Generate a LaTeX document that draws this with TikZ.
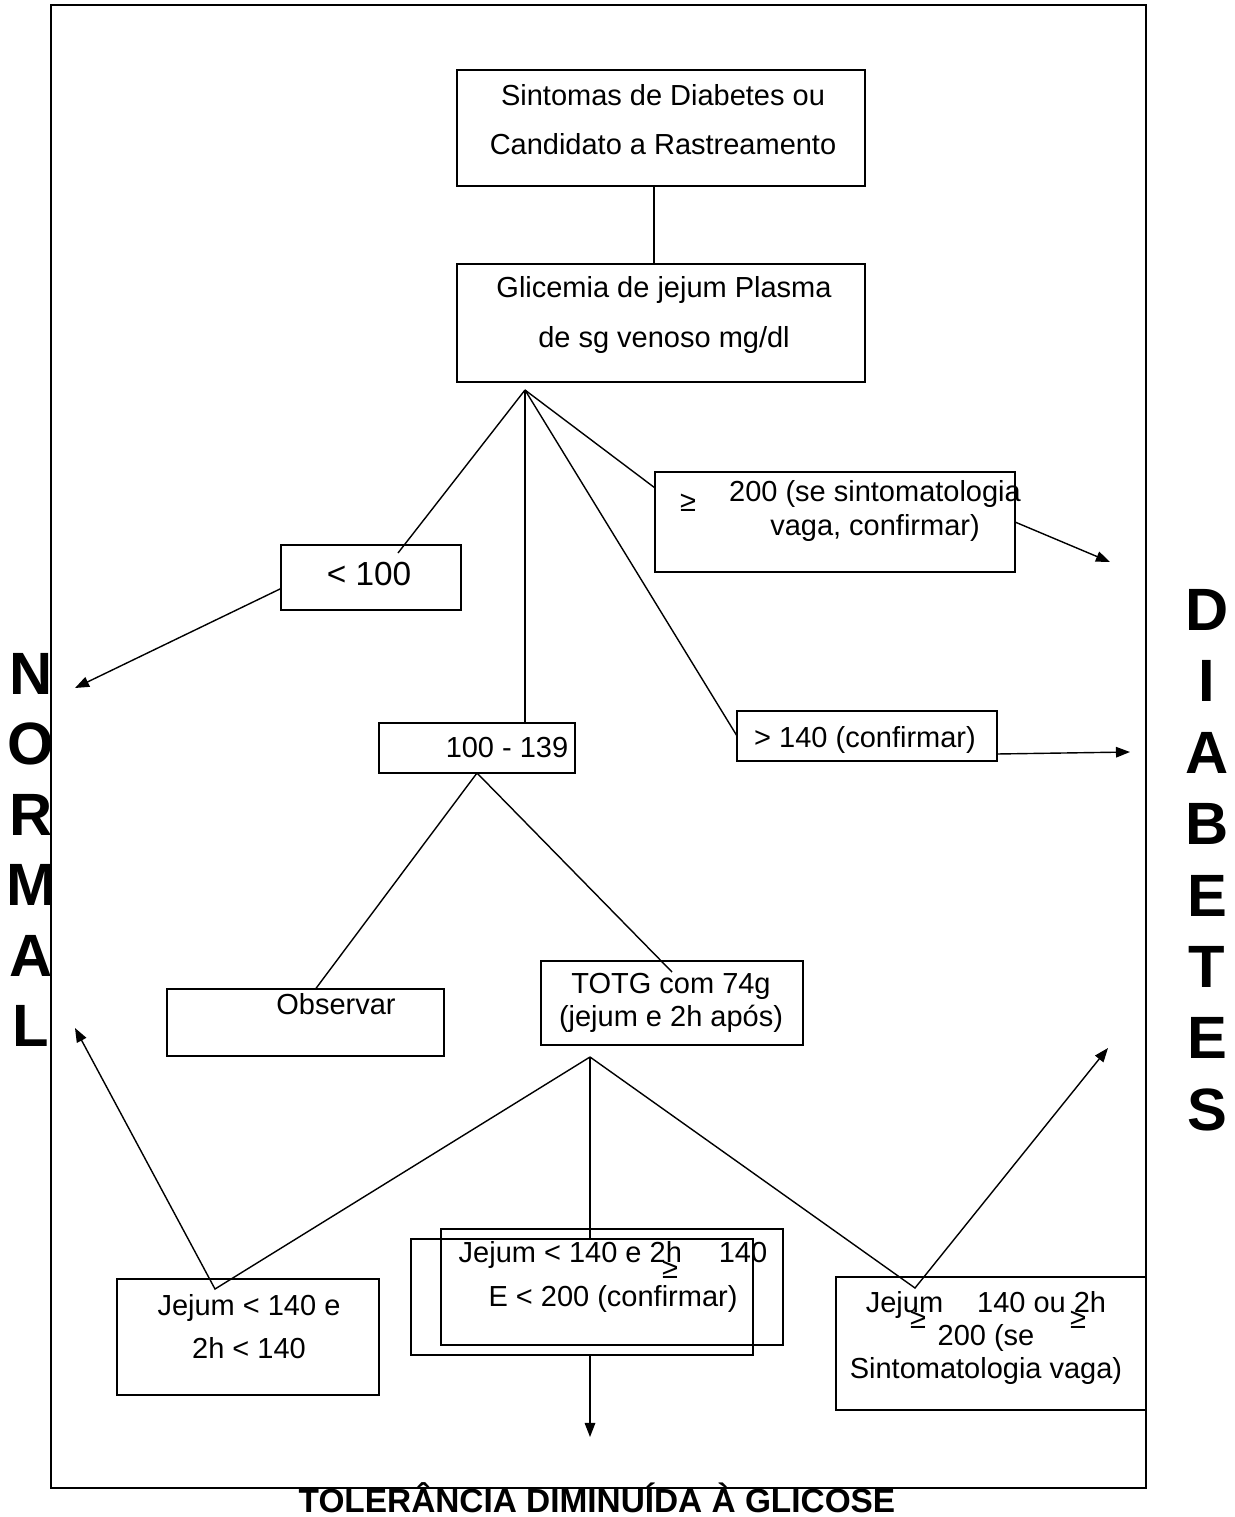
\documentclass[tikz,border=0pt]{standalone}
\usepackage{fontspec}
\setmainfont{Liberation Sans}
\usetikzlibrary{arrows.meta, positioning}

\begin{document}
\begin{tikzpicture}[
  x=0.02cm, y=-0.02cm,
  box/.style  = {rectangle, draw, line width=1pt, inner sep=0pt, outer sep=0pt},
  txt/.style  = {align=center, inner sep=0pt, font=\fontsize{16.5}{#1}\selectfont},
  txt/.default = 19,
  sym/.style  = {inner sep=0pt, font=\fontsize{16.5}{19}\selectfont},
  bigl/.style = {inner sep=0pt, font=\fontsize{34}{34}\selectfont\bfseries},
  conn/.style = {line width=0.8pt},
  arr/.style  = {conn, -{Triangle[length=8pt,width=6pt]}},
]
  \useasboundingbox (0,0) rectangle (1234,1517);

  % Frame
  \node[box, minimum width=21.9cm, minimum height=29.66cm] (frame) at (598.5,746.5) {};

  % Boxes
  \node[box, minimum width=8.16cm, minimum height=2.32cm] (sint)  at (661,128)    {};
  \node[box, minimum width=8.16cm, minimum height=2.36cm] (glic)  at (661,323)    {};
  \node[box, minimum width=7.2cm,  minimum height=2.0cm]  (g200)  at (835,522)    {};
  \node[box, minimum width=3.6cm,  minimum height=1.3cm]  (lt100) at (371,577.5)  {};
  \node[box, minimum width=3.92cm, minimum height=1.0cm]  (r100)  at (477,748)    {};
  \node[box, minimum width=5.2cm,  minimum height=1.0cm]  (gt140) at (867,736)    {};
  \node[box, minimum width=5.54cm, minimum height=1.34cm] (obs)   at (305.5,1022.5) {};
  \node[box, minimum width=5.24cm, minimum height=1.68cm] (totg)  at (672,1003)   {};
  \node[box, minimum width=5.24cm, minimum height=2.32cm] (jn)    at (248,1337)   {};
  \node[box, minimum width=6.84cm, minimum height=2.32cm] (tdA)   at (612,1287)   {};
  \node[box, minimum width=6.84cm, minimum height=2.32cm] (tdB)   at (582,1297)   {};
  \node[box, minimum width=6.2cm,  minimum height=2.66cm] (jd)    at (991,1343.5) {};

  % Texts
  \node[txt=28]   (sinttxt) at (663,120)  {Sintomas de Diabetes ou\\Candidato a Rastreamento};
  \node[txt=28.5] (glictxt) at (664,315)  {Glicemia de jejum Plasma\\de sg venoso mg/dl};
  \node[sym]      (gesym)   at (688,503)  {≥};
  \node[txt=18.8] (g200txt) at (875,511)  {200 (se sintomatologia\\vaga, confirmar)};
  \node[inner sep=0pt, font=\fontsize{19}{22}\selectfont] (lt100txt) at (369,574) {< 100};
  \node[txt]      (r100txt) at (507,748)  {100 - 139};
  \node[txt]      (gt140txt) at (865,740) {> 140 (confirmar)};
  \node[txt]      (obstxt)  at (336,1004) {Observar};
  \node[txt=18.8] (totgtxt) at (671,1003) {TOTG com 74g\\(jejum e 2h após)};
  \node[txt=24.5] (jntxt)   at (249,1327) {Jejum < 140 e\\2h < 140};
  \node[txt=24.5] (tdtxt)   at (613,1277) {Jejum < 140 e 2h\hspace{0.74cm}140\\E < 200 (confirmar)};
  \node[sym]      (tdsym)   at (670,1270) {≥};
  \node[txt=18.8] (jdtxt)   at (986,1338) {Jejum\hspace{0.68cm}140 ou 2h\\200 (se\\Sintomatologia vaga)};
  \node[sym]      (jdsymA)  at (918,1320) {≥};
  \node[sym]      (jdsymB)  at (1078,1320) {≥};

  % Side and bottom labels
  \foreach \l [count=\i] in {N,O,R,M,A,L}
    \node[bigl] (norm\i) at (31,603+70.5*\i) {\l};
  \foreach \l [count=\i] in {D,I,A,B,E,T,E,S}
    \node[bigl] (diab\i) at (1207,538.6+71.4*\i) {\l};
  \node[anchor=base, inner sep=0pt, font=\fontsize{19}{19}\selectfont\bfseries] (tol) at (597,1512)
    {TOLERÂNCIA DIMINUÍDA À GLICOSE};

  % Branch points and arrow ends
  \coordinate (gfan)  at (525,390);
  \coordinate (tfan)  at (590,1057);
  \coordinate (jnV)   at (215,1289);
  \coordinate (jdV)   at (915,1288);
  \coordinate (normA) at (75,688);
  \coordinate (normB) at (75,1028);
  \coordinate (diabA) at (1110,562);
  \coordinate (diabB) at (1130,752);
  \coordinate (diabC) at (1108,1048);
  \coordinate (tolA)  at (590,1437);

  % Connectors
  \draw[conn] ([xshift=-0.14cm]sint.south) -- ([xshift=-0.14cm]glic.north);
  \draw[conn] (gfan) -- ([shift={(0.54cm,-0.16cm)}]lt100.north);
  \draw[conn] (gfan) -- (gfan |- r100.north);
  \draw[conn] (gfan) -- ([yshift=0.68cm]g200.west);
  \draw[conn] (gfan) -- (gt140.west);
  \draw[arr]  ([yshift=-0.22cm]lt100.west) -- (normA);
  \draw[arr]  (g200.east) -- (diabA);
  \draw[arr]  ([yshift=-0.36cm]gt140.east) -- (diabB);
  \draw[conn] (r100.south) -- ([xshift=0.2cm]obs.north);
  \draw[conn] (r100.south) -- ([yshift=-0.22cm]totg.north);
  \draw[arr]  (tfan) -- (jnV) -- (normB);
  \draw[conn] (tfan) -- (tfan |- tdB.north);
  \draw[arr]  (tfan) -- (jdV) -- (diabC);
  \draw[arr]  (tfan |- tdB.south) -- (tolA);
\end{tikzpicture}
\end{document}
